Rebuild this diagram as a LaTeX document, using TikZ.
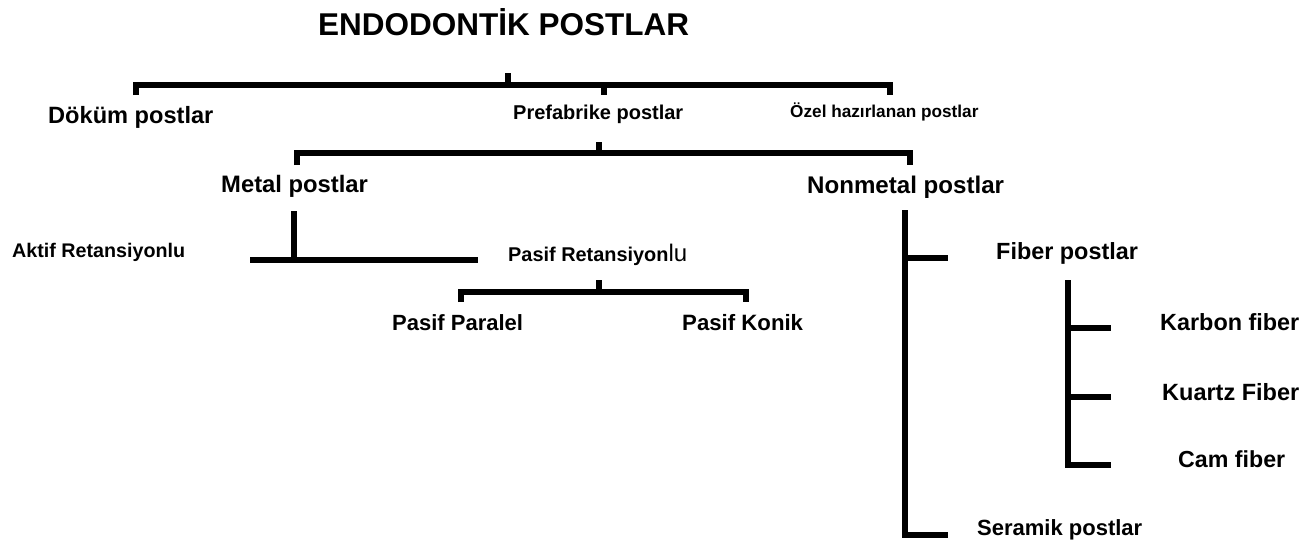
\documentclass[tikz,border=0pt]{standalone}
\usepackage{fontspec}
\setmainfont{Liberation Sans}
\begin{document}
\begin{tikzpicture}[x=1pt,y=-1pt,
  lbl/.style={inner sep=0pt,anchor=base west,font=\bfseries},
  br/.style={line width=6pt,line join=miter}]
\useasboundingbox (0,0) rectangle (1312,547);
\newcommand{\fsz}[1]{\fontsize{#1}{#1}\selectfont}
% texts
\node[lbl] (title) at (318,35) {\fsz{31.5}ENDODONTİK POSTLAR};
\node[lbl] (dokum) at (48,123) {\fsz{23.6}Döküm postlar};
\node[lbl] (prefab) at (513,119.5) {\fsz{20}Prefabrike postlar};
\node[lbl] (ozel) at (790,117.5) {\fsz{17.2}Özel hazırlanan postlar};
\node[lbl] (metal) at (221,192) {\fsz{23.8}Metal postlar};
\node[lbl] (nonmetal) at (807,193) {\fsz{24.1}Nonmetal postlar};
\node[lbl] (aktif) at (12,257) {\fsz{19.7}Aktif Retansiyonlu};
\node[lbl] (pasif) at (508,261) {\fsz{19.9}Pasif Retansiyon{\mdseries\fsz{24}lu}};
\node[lbl] (paralel) at (392,330) {\fsz{22}Pasif Paralel};
\node[lbl] (konik) at (682,330) {\fsz{22.2}Pasif Konik};
\node[lbl] (fiber) at (996,259) {\fsz{23.4}Fiber postlar};
\node[lbl] (karbon) at (1160,330) {\fsz{23.4}Karbon fiber};
\node[lbl] (kuartz) at (1162,400) {\fsz{23.5}Kuartz Fiber};
\node[lbl] (cam) at (1178,467) {\fsz{23.2}Cam fiber};
\node[lbl] (seramik) at (977,535) {\fsz{22}Seramik postlar};
% junction coordinates
\coordinate (t0) at (508,73);
\coordinate (t1) at (508,84.5);
\coordinate (tL) at (135.5,95);
\coordinate (tM) at (604,95);
\coordinate (tR) at (889.5,95);
\coordinate (s0) at (598.5,142);
\coordinate (sL) at (297,165);
\coordinate (sR) at (910,165);
\coordinate (m0) at (293.5,211);
\coordinate (mL) at (250,259.5);
\coordinate (mR) at (478,259.5);
\coordinate (p0) at (599,280);
\coordinate (pL) at (461,302);
\coordinate (pR) at (746,302);
\coordinate (n0) at (905,210);
\coordinate (nF) at (948,258);
\coordinate (nS) at (948,535);
\coordinate (f0) at (1068,280);
\coordinate (fK) at (1111,328);
\coordinate (fQ) at (1111,397);
\coordinate (fC) at (1111,465);
% top bracket
\draw[br] (tL) |- (t1 -| tR) -- (tR);
\draw[br] (t0) -- (t1);
\draw[br] (tM |- t1) -- (tM);
% second bracket
\draw[br] (sL) -- (sL |- 0,152.5) -- (sR |- 0,152.5) -- (sR);
\draw[br] (s0) -- (s0 |- 0,152.5);
% metal
\draw[br] (m0) -- (m0 |- mL);
\draw[br] (mL) -- (mR);
% pasif bracket
\draw[br] (pL) -- (pL |- 0,292) -- (pR |- 0,292) -- (pR);
\draw[br] (p0) -- (p0 |- 0,292);
% nonmetal
\draw[br] (n0) |- (nS);
\draw[br] (n0 |- nF) -- (nF);
% fiber
\draw[br] (f0) |- (fC);
\draw[br] (f0 |- fK) -- (fK);
\draw[br] (f0 |- fQ) -- (fQ);
\end{tikzpicture}
\end{document}
